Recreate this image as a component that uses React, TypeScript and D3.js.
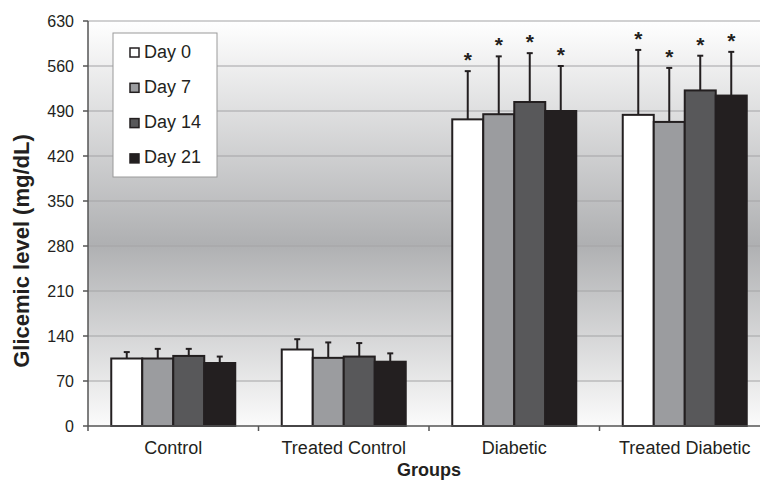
import React from 'react';
import * as d3 from 'd3';

const groups = ['Control', 'Treated Control', 'Diabetic', 'Treated Diabetic'];
const days = ['Day 0', 'Day 7', 'Day 14', 'Day 21'];
const dayColors = ['#ffffff', '#9b9c9f', '#58585a', '#231f20'];
// mean glicemic level per group, one array per day
const day0 = [105, 119, 477, 484];
const day7 = [105, 106, 485, 473];
const day14 = [109, 108, 504, 522];
const day21 = [98, 100, 490, 514];
// upper error bar ends
const err0 = [115, 135, 552, 585];
const err7 = [120, 130, 575, 557];
const err14 = [120, 129, 580, 576];
const err21 = [108, 113, 560, 582];
const signif = [false, false, true, true];
const yTicks = [0, 70, 140, 210, 280, 350, 420, 490, 560, 630];

const W = 760;
const H = 482;
const left = 88;
const right = 770;
const top = 21;
const bottom = 426;
const font = 'Liberation Sans, Arial, sans-serif';
const ink = '#231f20';

const values = [day0, day7, day14, day21];
const errors = [err0, err7, err14, err21];

export default function App() {
  const y = d3.scaleLinear().domain([0, 630]).range([bottom, top]);
  const x = d3.scaleBand().domain(groups).range([left, right]);
  const xi = d3.scaleBand().domain(days).range([0, x.bandwidth()]).paddingOuter(0.75);

  return (
    <svg width={W} height={H} style={{ position: 'absolute', left: 0, top: 0 }} fontFamily={font} fill={ink}>
      <defs>
        <linearGradient id="bg" x1="0" y1="0" x2="0" y2="1">
          <stop offset="0" stopColor="#ffffff" />
          <stop offset="0.55" stopColor="#afb0b2" />
          <stop offset="1" stopColor="#fbfbfb" />
        </linearGradient>
      </defs>
      <rect x={0} y={0} width={W} height={H} fill="#fff" />
      <rect x={left} y={top} width={right - left} height={bottom - top} fill="url(#bg)" />
      {yTicks.map((t) => (
        <g key={t}>
          {t > 0 && <line x1={left} x2={right} y1={y(t)} y2={y(t)} stroke="#a3a3a5" strokeWidth={1.2} />}
          <line x1={left - 5} x2={left} y1={y(t)} y2={y(t)} stroke="#555" strokeWidth={1.5} />
          <text x={74} y={y(t) + 5.5} fontSize={16} textAnchor="end">{t}</text>
        </g>
      ))}
      {groups.map((g, gi) => (
        <g key={g} transform={`translate(${x(g)},0)`}>
          {days.map((d, di) => {
            const v = values[di][gi];
            const e = errors[di][gi];
            const bx = xi(d)!;
            const cx = bx + xi.bandwidth() / 2;
            return (
              <g key={d}>
                <line x1={cx} x2={cx} y1={y(v)} y2={y(e)} stroke={ink} strokeWidth={2} />
                <line x1={cx - 3} x2={cx + 3} y1={y(e)} y2={y(e)} stroke={ink} strokeWidth={2} />
                <rect x={bx} y={y(v)} width={xi.bandwidth()} height={bottom - y(v)} fill={dayColors[di]} stroke={ink} strokeWidth={2} />
                {signif[gi] && (
                  <text x={cx} y={y(e) - 4} textAnchor="middle" fontWeight="bold" fontSize={21}>*</text>
                )}
              </g>
            );
          })}
        </g>
      ))}
      <line x1={left} x2={left} y1={top} y2={bottom} stroke="#555" strokeWidth={1.5} />
      <line x1={left} x2={right} y1={bottom} y2={bottom} stroke="#555" strokeWidth={1.5} />
      {groups.map((g) => (
        <line key={g} x1={x(g)} x2={x(g)} y1={bottom} y2={bottom + 5} stroke="#555" strokeWidth={1.5} />
      ))}
      {groups.map((g) => (
        <text key={g} x={x(g)! + x.bandwidth() / 2} y={454} fontSize={18} textAnchor="middle">{g}</text>
      ))}
      <text x={(left + right) / 2} y={476} fontSize={18} fontWeight="bold" textAnchor="middle">Groups</text>
      <text transform="translate(29,251) rotate(-90)" fontSize={22} fontWeight="bold" textAnchor="middle">
        Glicemic level (mg/dL)
      </text>
      <g>
        <rect x={113} y={33} width={104} height={144} fill="#fff" stroke="#9a9a9a" strokeWidth={1} />
        {days.map((d, di) => (
          <g key={d} transform={`translate(0,${52.5 + di * 35.3})`}>
            <rect x={130} y={-4.5} width={9} height={9} fill={dayColors[di]} stroke={ink} strokeWidth={1.5} />
            <text x={144} y={5} fontSize={18}>{d}</text>
          </g>
        ))}
      </g>
    </svg>
  );
}
